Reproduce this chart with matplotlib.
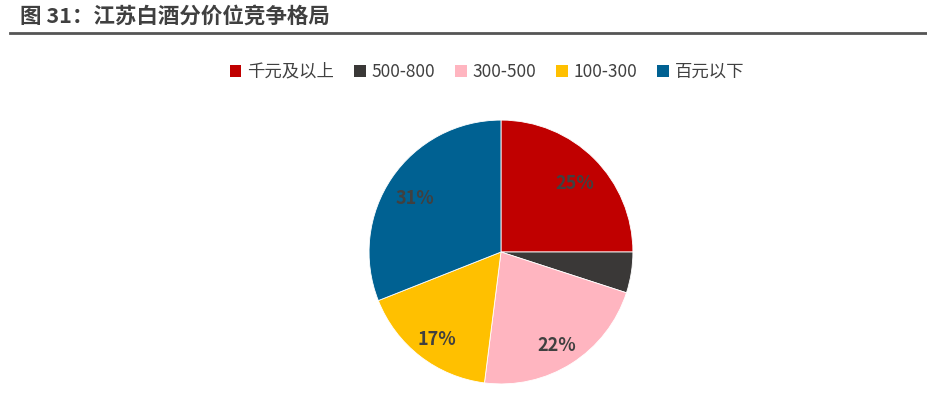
import numpy as np
import matplotlib.pyplot as plt
from matplotlib.patches import Patch

plt.rcParams['font.family'] = ['Noto Sans CJK SC', 'DejaVu Sans']

labels = ['千元及以上', '500-800', '300-500', '100-300', '百元以下']
shares = [25, 5, 22, 17, 31]
pct_text = ['25%', '', '22%', '17%', '31%']
colors = ['#C00000', '#3A3837', '#FFB5C0', '#FFC000', '#006192']

fig = plt.figure(figsize=(9.28, 3.95), dpi=100)

# title and rule under it
fig.text(0.022, 0.958, '图 31：江苏白酒分价位竞争格局', fontsize=15.5, fontweight='bold',
         color='#404040', va='center', ha='left')
fig.add_artist(plt.Line2D([0.011, 1.0], [0.916, 0.916], color='#555555', lw=2))

ax = fig.add_axes([0.3976, 0.028, 0.2845, 0.668])
wedges, _ = ax.pie(shares, colors=colors, startangle=90, counterclock=False,
                   wedgeprops=dict(linewidth=0.6, edgecolor='white'))
for w, t in zip(wedges, pct_text):
    if not t:
        continue
    ang = np.deg2rad((w.theta1 + w.theta2) / 2)
    ax.text(0.79 * np.cos(ang), 0.79 * np.sin(ang) - 0.04, t, ha='center', va='center',
            fontsize=13, fontweight='bold', color='#404040')
ax.set_xlim(-1, 1)
ax.set_ylim(-1, 1)
ax.set_aspect('equal')

handles = [Patch(facecolor=c, edgecolor='none') for c in colors]
fig.legend(handles, labels, loc='center', bbox_to_anchor=(0.525, 0.818), ncol=5,
           frameon=False, fontsize=12.5, handlelength=0.65, handleheight=0.65,
           handletextpad=0.35, columnspacing=1.15, labelcolor='#404040')

fig.savefig('out.png', dpi=100)
